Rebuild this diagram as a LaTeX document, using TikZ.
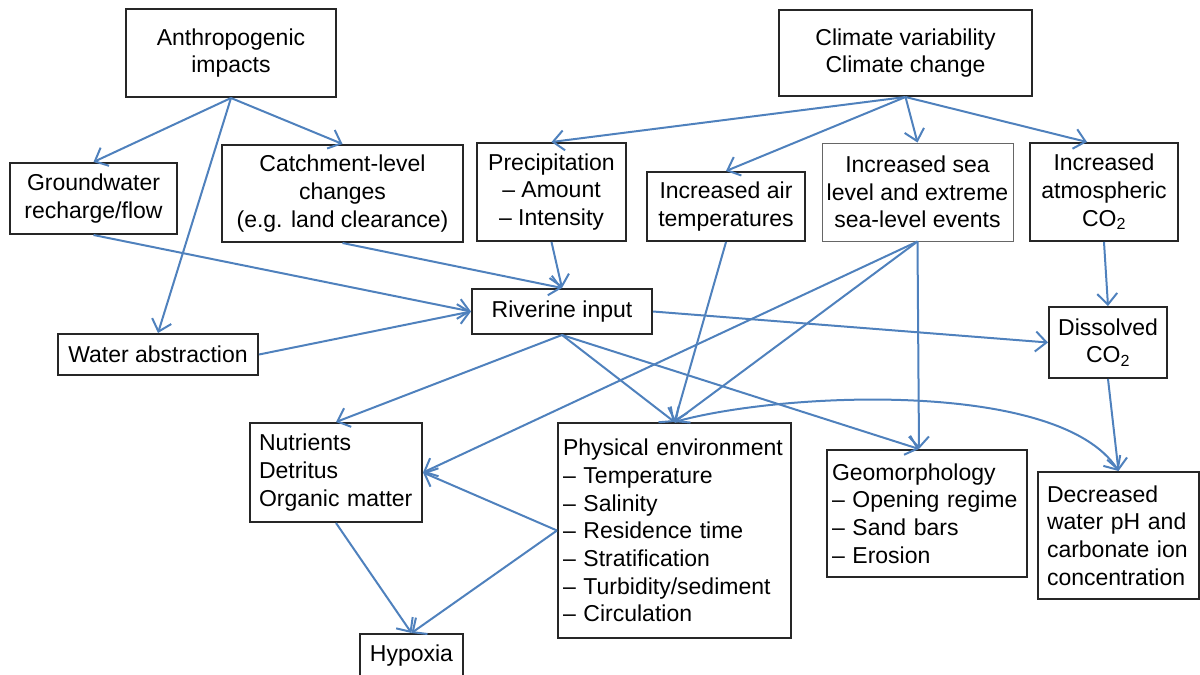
\documentclass[tikz,border=0pt]{standalone}
\usepackage{fontspec}
\setmainfont{Liberation Sans}
\usetikzlibrary{arrows.meta}
\definecolor{linkblue}{RGB}{79,129,189}
\newcommand\boxfont{\fontsize{23}{27.7}\selectfont\hyphenpenalty=10000}
\newcommand\cotwo{CO\textsubscript{2}}
\begin{document}
\begin{tikzpicture}[x=1pt,y=-1pt,
  box/.style={draw=black!85,line width=2pt,inner sep=0pt,align=center,font=\boxfont},
  lbox/.style={box,align=left,inner xsep=5pt},
  link/.style={draw=linkblue,line width=2pt,-{Straight Barb[length=11pt,width=20pt]}}]
\useasboundingbox (0,0) rectangle (1200,675);
% drivers
\node[box,minimum width=210,minimum height=88] (anthro) at (231,53) {Anthropogenic\\impacts};
\node[box,minimum width=253,minimum height=86] (climate) at (905.5,53) {Climate variability\\Climate change};
% second row
\node[box,minimum width=167,minimum height=71] (ground) at (93.5,198.5) {Groundwater\\recharge/flow};
\node[box,minimum width=241,minimum height=97] (catch) at (342.5,193.5) {Catchment-level\\changes\\(e.g. land clearance)};
\node[box,minimum width=149,minimum height=98] (precip) at (551.5,192) {Precipitation\\\textendash{} Amount\\\textendash{} Intensity};
\node[box,minimum width=158,minimum height=69] (airtemp) at (726,206.5) {Increased air\\temperatures};
\node[box,draw=black!60,line width=1pt,minimum width=191,minimum height=98] (sealevel) at (917.5,192) {Increased sea\\level and extreme\\sea-level events};
\node[box,minimum width=148,minimum height=98] (atmco) at (1104,192) {Increased\\atmospheric\\\cotwo};
% middle
\node[box,minimum width=180,minimum height=45] (river) at (562,311.5) {Riverine input};
\node[box,minimum width=200,minimum height=41] (abstr) at (158,354.5) {Water abstraction};
\node[box,minimum width=118,minimum height=71] (dissco) at (1108,342.5) {Dissolved\\\cotwo};
% responses
\node[lbox,inner xsep=9pt,text width=154,minimum height=99] (nutr) at (336,472.5) {Nutrients\\Detritus\\Organic matter};
\node[lbox,text width=223,minimum height=215] (phys) at (674.5,530.5) {Physical environment\\\textendash{} Temperature\\\textendash{} Salinity\\\textendash{} Residence time\\\textendash{} Stratification\\\textendash{} Turbidity/sediment\\\textendash{} Circulation};
\node[lbox,inner xsep=5pt,text width=190,minimum height=127] (geomorph) at (927,513.5) {Geomorphology\\\textendash{} Opening regime\\\textendash{} Sand bars\\\textendash{} Erosion};
\node[lbox,inner xsep=9pt,text width=143,minimum height=127] (ph) at (1118.5,535.5) {Decreased\\water pH and\\carbonate ion\\concentration};
\node[box,minimum width=103,minimum height=44] (hypoxia) at (411.5,656) {Hypoxia};
% links
\draw[link] (anthro.south) -- (ground.north);
\draw[link] (anthro.south) -- (catch.north);
\draw[link] (anthro.south) -- (abstr.north);
\draw[link] (climate.south) -- (precip.north);
\draw[link] (climate.south) -- (airtemp.north);
\draw[link] (climate.south) -- (sealevel.north);
\draw[link] (climate.south) -- ([xshift=-17pt]atmco.north);
\draw[link] (ground.south) -- (river.west);
\draw[link] (catch.south) -- (river.north);
\draw[link] (precip.south) -- (river.north);
\draw[link] (abstr.east) -- (river.west);
\draw[link] (river.east) -- (dissco.west);
\draw[link] (atmco.south) -- (dissco.north);
\draw[link] (dissco.south) -- (ph.north);
\draw[link] (river.south) -- (nutr.north);
\draw[link] (river.south) -- (phys.north);
\draw[link] (river.south) -- ([xshift=-8pt]geomorph.north);
\draw[link] (airtemp.south) -- (phys.north);
\draw[link] (sealevel.south) -- (nutr.east);
\draw[link] (sealevel.south) -- (phys.north);
\draw[link] (sealevel.south) -- ([xshift=-8pt]geomorph.north);
\draw[link] (phys.west) -- (nutr.east);
\draw[link] (phys.west) -- (hypoxia.north);
\draw[link] (nutr.south) -- (hypoxia.north);
\draw[link] (phys.north) .. controls +(105,-30) and +(-59,-92) .. (ph.north);
\end{tikzpicture}
\end{document}
